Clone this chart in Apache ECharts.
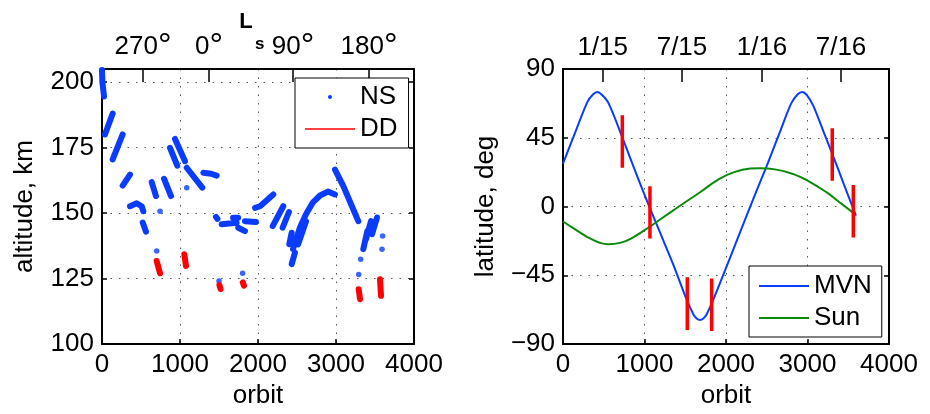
<!DOCTYPE html>
<html><head><meta charset="utf-8">
<script src="https://cdn.jsdelivr.net/npm/echarts@6/dist/echarts.min.js"></script>
<style>html,body{margin:0;padding:0;background:#fff}#c{width:930px;height:414px}</style>
</head><body><div id="c"></div>
<script>
// ---------- data ----------
const orbitTicks = [0, 1000, 2000, 3000, 4000];
const altTicks = [100, 125, 150, 175, 200];
const latTicks = [-90, -45, 0, 45, 90];
const lsTickOrbits = [526, 1372, 2449, 3423];
const lsTickLabels = ['270', '0', '90', '180'];
const dateTickOrbits = [487, 1460, 2442, 3411];
const dateTickLabels = ['1/15', '7/15', '1/16', '7/16'];

// NS (blue) streaks: [orbit, altitude]
const nsStreaks = [
  [[0, 204.5], [5, 200], [26, 194.5]],
  [[38, 180], [137, 188]],
  [[137, 170.5], [265, 180]],
  [[265, 160.5], [359, 164.7]],
  [[359, 152.6], [445, 153.7], [509, 152.6], [530, 150.7]],
  [[522, 146.4], [564, 142.9]],
  [[637, 161.8], [692, 156.5]],
  [[795, 163.1], [885, 156.5]],
  [[872, 174.9], [965, 168.1]],
  [[936, 178.3], [1064, 169.8]],
  [[1086, 167.3], [1286, 159.7]],
  [[1299, 165.4], [1400, 165], [1470, 164.3]],
  [[1462, 148.5], [1480, 147.8]],
  [[1535, 145.7], [1726, 146.3]],
  [[1680, 148.2], [1745, 148.2]],
  [[1747, 144.4], [1833, 143.1]],
  [[1833, 146.9], [1974, 146.6]],
  [[1962, 152], [2026, 152.6], [2196, 157.1]],
  [[2188, 145], [2324, 152.6]],
  [[2316, 144.4], [2397, 150.4]],
  [[2401, 138.1], [2432, 142.5]],
  [[2432, 130.5], [2474, 134.9]],
  [[2449, 136.2], [2538, 144.5], [2615, 149.5], [2705, 154.1], [2795, 156.7], [2897, 158.2], [2987, 157.1]],
  [[2513, 138], [2615, 146.8]],
  [[2987, 166.6], [3094, 160.3], [3286, 146.9]],
  [[3350, 136.2], [3401, 143.1]],
  [[3385, 140], [3449, 146.9]],
  [[3462, 141.9], [3526, 148.3]]
];
// NS isolated dots
const nsDots = [[0, 204.7], [701, 135.5], [744, 150.7], [1086, 159.7], [1500, 124.1], [1803, 127],
  [3291, 126.5], [3316, 132.4], [3590, 136.2], [3598, 141.2]];
// DD (red) streaks
const ddStreaks = [
  [[701, 131.7], [744, 127]],
  [[1055, 134.3], [1077, 129.8]],
  [[1505, 122.5], [1520, 121]],
  [[1805, 123.5], [1820, 122.3]],
  [[3291, 120.9], [3308, 117.1]],
  [[3564, 124.7], [3577, 118.4]]
];

// right panel
const mvnOrbit = [0, 150, 300, 370, 421, 480, 560, 728, 880, 1035, 1190, 1353, 1518, 1599, 1640, 1681, 1722, 1763, 1844, 2009, 2172, 2335, 2499, 2660, 2800, 2880, 2936, 2990, 3070, 3200, 3304, 3450, 3595];
const mvnLat   = [28, 48.5, 68.5, 73.5, 75, 73, 67.5, 45.2, 24, 3, -17, -38, -61, -70.5, -73.3, -74.3, -73.3, -70.5, -61, -39, -17, 5, 26.5, 48.5, 67.5, 73.5, 75, 73, 66, 48.5, 34.5, 14, -6];
const sunOrbit = [0, 150, 300, 450, 556, 700, 850, 1000, 1108, 1300, 1500, 1700, 1900, 2100, 2300, 2417, 2600, 2826, 3000, 3236, 3400, 3583];
const sunLat   = [-9.8, -15, -20, -23.7, -24.7, -23.8, -20.5, -15.5, -11.6, -4.5, 2.8, 10, 17.5, 22.5, 24.8, 25.1, 24.3, 21.2, 17, 9.2, 2.5, -5];
const ddBarOrbit  = [728, 1067, 1525, 1824, 3304, 3562];
const ddBarTop    = [59.8, 13.3, -46.3, -47.2, 51.3, 14];
const ddBarBottom = [25.3, -21, -80.8, -81.5, 16.8, -20.3];

// ---------- helpers ----------
function joinStreaks(list) {
  const out = [];
  list.forEach((s, i) => { if (i) out.push(['-', '-']); s.forEach(p => out.push(p)); });
  return out;
}
const zip = (a, b) => a.map((v, i) => [v, b[i]]);
const ddBars = ddBarOrbit.map((o, i) => [[o, ddBarTop[i]], [o, ddBarBottom[i]]]);

const FONT = 'Liberation Sans';
const BLUE = '#0a3cff', GREEN = '#0a8a0a', RED = '#ff0000';
const txt = { color: '#000', fontSize: 26, fontFamily: FONT };
const axisLine = { show: true, onZero: false, lineStyle: { color: '#000', width: 2 } };
const dotted = { show: true, showMinLine: false, showMaxLine: false, lineStyle: { color: '#555', width: 1, type: [1.5, 7] } };
const tickIn = { show: true, inside: true, length: 5, lineStyle: { color: '#000', width: 1.5 } };
const degRich = { deg: { fontSize: 34, color: '#000', fontFamily: FONT } };

function bottomX(grid) {
  return { type: 'value', gridIndex: grid, position: 'bottom', min: orbitTicks[0], max: orbitTicks[orbitTicks.length - 1], interval: 1000,
    axisLine, axisTick: tickIn, splitLine: dotted,
    axisLabel: Object.assign({ margin: 8, formatter: v => String(v) }, txt),
    name: 'orbit', nameLocation: 'middle', nameGap: 39, nameMoveOverlap: false, nameTextStyle: txt };
}
function topX(grid, vals, labels, deg) {
  return { type: 'value', gridIndex: grid, position: 'top', min: 0, max: 4000,
    axisLine, splitLine: { show: false },
    axisTick: { show: true, inside: true, length: 13, customValues: vals, lineStyle: { color: '#000', width: 1.5 } },
    axisLabel: Object.assign({ margin: deg ? 5 : 8, customValues: vals, rich: degRich,
      formatter: v => { const i = vals.indexOf(v); return i < 0 ? '' : labels[i] + (deg ? '{deg|\u00b0}' : ''); } }, txt) };
}
function leftY(grid, min, max, interval, name, fmt) {
  return { type: 'value', gridIndex: grid, position: 'left', min, max, interval,
    axisLine, axisTick: tickIn, splitLine: dotted,
    axisLabel: Object.assign({ margin: 8, formatter: fmt }, txt),
    name, nameLocation: 'middle', nameGap: 64, nameMoveOverlap: false, nameTextStyle: txt };
}
function rightY(grid, min, max, interval) {
  return { type: 'value', gridIndex: grid, position: 'right', min, max, interval,
    axisLine, axisTick: tickIn, splitLine: { show: false }, axisLabel: { show: false } };
}

const xTop0 = topX(0, lsTickOrbits, lsTickLabels, true);
xTop0.name = 'L';
xTop0.nameLocation = 'middle';
xTop0.nameGap = 36;
xTop0.nameMoveOverlap = false;
xTop0.nameTextStyle = { color: '#000', fontSize: 22, fontWeight: 'bold', fontFamily: FONT, padding: [0, 24, 0, 0] };

const option = {
  animation: false,
  backgroundColor: '#fff',
  textStyle: { fontFamily: FONT },
  grid: [
    { left: 102, top: 69, width: 312, height: 276 },
    { left: 563, top: 69, width: 326, height: 276 }
  ],
  xAxis: [bottomX(0), xTop0, bottomX(1), topX(1, dateTickOrbits, dateTickLabels, false)],
  yAxis: [
    leftY(0, 100, 205, 25, 'altitude, km', v => (altTicks.indexOf(v) < 0 ? '' : String(v))),
    rightY(0, 100, 205, 25),
    leftY(1, -90, 90, 45, 'latitude, deg', v => (v < 0 ? '\u2212' + Math.abs(v) : String(v))),
    rightY(1, -90, 90, 45)
  ],
  legend: [
    { orient: 'vertical', left: 295, top: 78, padding: [6, 11, 6, 10], itemGap: 6, itemWidth: 50, itemHeight: 4,
      backgroundColor: '#fff', borderColor: '#000', borderWidth: 1, borderRadius: 0, selectedMode: false,
      textStyle: Object.assign({ lineHeight: 26 }, txt),
      data: [{ name: 'NS', icon: 'circle' }, { name: 'DD', icon: 'path://M0,0h50v1.4h-50z' }] },
    { orient: 'vertical', left: 749, top: 266, padding: [7, 10, 6, 10], itemGap: 6, itemWidth: 50, itemHeight: 4,
      backgroundColor: '#fff', borderColor: '#000', borderWidth: 1, borderRadius: 0, selectedMode: false,
      textStyle: Object.assign({ lineHeight: 26 }, txt),
      data: [{ name: 'MVN', icon: 'path://M0,0h50v2h-50z' }, { name: 'Sun', icon: 'path://M0,0h50v2h-50z' }] }
  ],
  graphic: [
    { type: 'text', left: 255, top: 36, style: { text: 's', fontSize: 17, fontWeight: 'bold', fill: '#000', fontFamily: FONT } }
  ],
  series: [
    { name: 'NS', type: 'line', xAxisIndex: 0, yAxisIndex: 0, data: joinStreaks(nsStreaks), connectNulls: false,
      symbol: 'none', color: BLUE, lineStyle: { width: 6, cap: 'round', join: 'round' }, silent: true },
    { name: 'NS', type: 'scatter', xAxisIndex: 0, yAxisIndex: 0, data: nsDots, symbolSize: 5.5, color: BLUE, silent: true },
    { name: 'DD', type: 'line', xAxisIndex: 0, yAxisIndex: 0, data: joinStreaks(ddStreaks), connectNulls: false,
      symbol: 'none', color: RED, lineStyle: { width: 6, cap: 'round', join: 'round' }, silent: true },
    { name: 'MVN', type: 'line', xAxisIndex: 2, yAxisIndex: 2, data: zip(mvnOrbit, mvnLat), smooth: 0.3,
      symbol: 'none', color: BLUE, lineStyle: { width: 2 }, silent: true },
    { name: 'Sun', type: 'line', xAxisIndex: 2, yAxisIndex: 2, data: zip(sunOrbit, sunLat), smooth: 0.5,
      symbol: 'none', color: GREEN, lineStyle: { width: 2 }, silent: true },
    { name: 'DDbars', type: 'line', xAxisIndex: 2, yAxisIndex: 2, data: joinStreaks(ddBars), connectNulls: false,
      symbol: 'none', color: RED, lineStyle: { width: 3.5 }, silent: true }
  ]
};
echarts.init(document.getElementById('c'), null, { renderer: 'canvas' }).setOption(option);
</script></body></html>
